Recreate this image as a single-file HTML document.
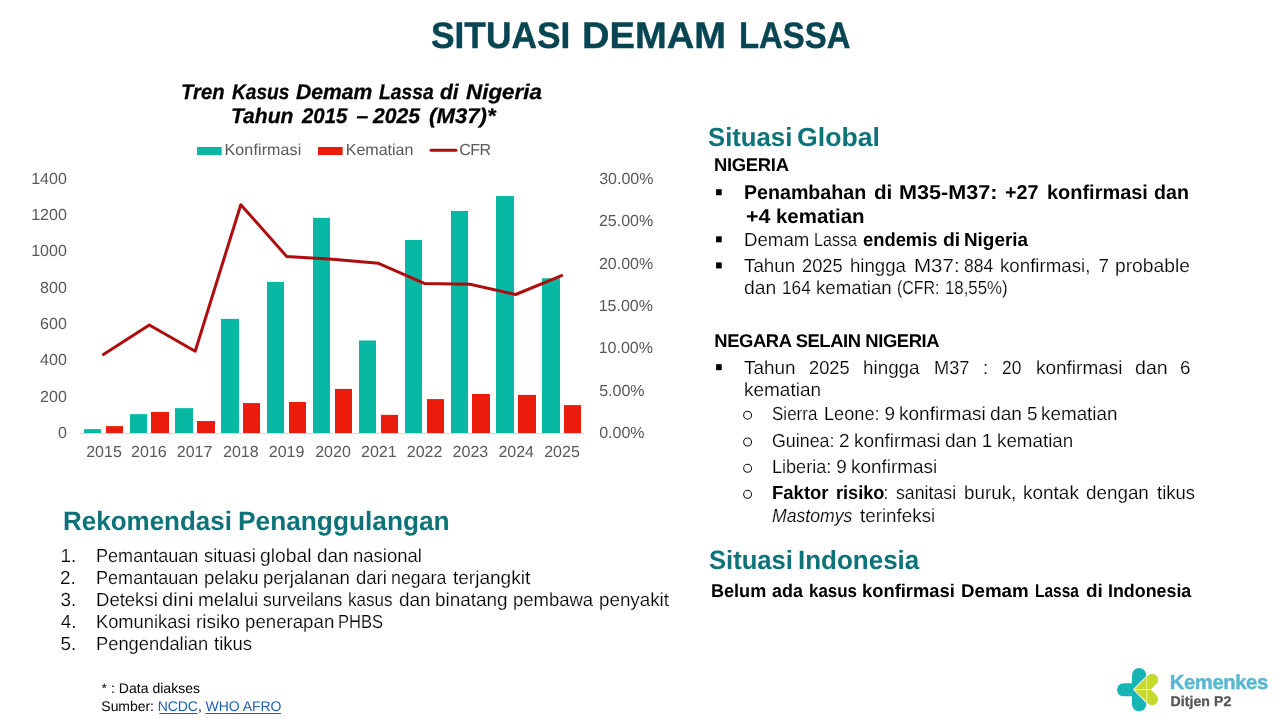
<!DOCTYPE html>
<html lang="id"><head><meta charset="utf-8"><title>Situasi Demam Lassa</title>
<style>
html,body{margin:0;padding:0;background:#fff}
body{width:1280px;height:720px;position:relative;overflow:hidden;font-family:"Liberation Sans",sans-serif;font-variant-ligatures:none;text-rendering:geometricPrecision}
.t{position:absolute;white-space:pre;line-height:1;transform-origin:0 0}
.r{-webkit-text-stroke:0.18px #fff}
svg{position:absolute;left:0;top:0}
</style></head><body>
<div id="slide" style="position:absolute;left:0;top:0;width:1280px;height:720px;will-change:transform">
<svg width="1280" height="720" viewBox="0 0 1280 720">
<line x1="80" y1="433.5" x2="584.3" y2="433.5" stroke="#d9d9d9" stroke-width="1"/>
<rect x="84" y="429.10" width="17" height="3.90" fill="#09b8a4"/>
<rect x="106" y="426.11" width="17" height="6.89" fill="#eb1c0c"/>
<rect x="130" y="414.13" width="17" height="18.87" fill="#09b8a4"/>
<rect x="151" y="411.95" width="18" height="21.05" fill="#eb1c0c"/>
<rect x="175" y="408.14" width="18" height="24.86" fill="#09b8a4"/>
<rect x="197" y="421.03" width="18" height="11.97" fill="#eb1c0c"/>
<rect x="221" y="318.88" width="18" height="114.12" fill="#09b8a4"/>
<rect x="243" y="403.06" width="17" height="29.94" fill="#eb1c0c"/>
<rect x="267" y="281.87" width="17" height="151.13" fill="#09b8a4"/>
<rect x="289" y="401.98" width="17" height="31.02" fill="#eb1c0c"/>
<rect x="313" y="217.83" width="17" height="215.17" fill="#09b8a4"/>
<rect x="335" y="388.91" width="17" height="44.09" fill="#eb1c0c"/>
<rect x="359" y="340.47" width="17" height="92.53" fill="#09b8a4"/>
<rect x="381" y="414.86" width="17" height="18.14" fill="#eb1c0c"/>
<rect x="405" y="239.96" width="17" height="193.04" fill="#09b8a4"/>
<rect x="427" y="399.07" width="17" height="33.93" fill="#eb1c0c"/>
<rect x="451" y="210.93" width="17" height="222.07" fill="#09b8a4"/>
<rect x="472" y="393.99" width="18" height="39.01" fill="#eb1c0c"/>
<rect x="496" y="196.05" width="18" height="236.95" fill="#09b8a4"/>
<rect x="518" y="394.90" width="18" height="38.10" fill="#eb1c0c"/>
<rect x="542" y="278.24" width="18" height="154.76" fill="#09b8a4"/>
<rect x="564" y="405.06" width="17" height="27.94" fill="#eb1c0c"/>
<polyline fill="none" stroke="#ad0d0d" stroke-width="3" stroke-linejoin="round" stroke-linecap="round" points="103.4,354.5 149.3,325.0 195.2,351.2 240.8,204.7 286.7,256.4 332.5,259.3 378.5,263.3 424.3,283.4 470.0,284.3 515.6,294.5 561.6,275.6"/>
<rect x="197" y="147" width="24.7" height="8" fill="#09b8a4"/>
<rect x="318" y="147" width="24.7" height="8" fill="#eb1c0c"/>
<line x1="431" y1="150.3" x2="456" y2="150.3" stroke="#ad0d0d" stroke-width="3" stroke-linecap="round"/>
<rect x="716.1" y="189.20" width="5.6" height="6.0" fill="#000"/>
<rect x="716.1" y="236.30" width="5.6" height="6.0" fill="#000"/>
<rect x="716.1" y="262.40" width="5.6" height="6.0" fill="#000"/>
<rect x="716.1" y="364.20" width="5.6" height="6.0" fill="#000"/>
<circle cx="747.6" cy="415.20" r="3.95" fill="none" stroke="#111" stroke-width="1.05"/>
<circle cx="747.6" cy="442.00" r="3.95" fill="none" stroke="#111" stroke-width="1.05"/>
<circle cx="747.6" cy="468.30" r="3.95" fill="none" stroke="#111" stroke-width="1.05"/>
<circle cx="747.6" cy="494.30" r="3.95" fill="none" stroke="#111" stroke-width="1.05"/>
<path d="M159.4 713.5 H197.6 M205.4 713.5 H281" stroke="#1a5fb4" stroke-width="1" fill="none"/>
<rect x="1132" y="668" width="14.3" height="43.3" rx="7.15" fill="#17b4b6"/>
<path d="M1132.2 683.3 H1123.5 A6.5 6.5 0 0 0 1123.5 696.3 H1132.2 Z" fill="#17b4b6"/>
<path d="M1147 675.2 L1132.8 689.5 L1147 703.8 Z" fill="#fff"/>
<path d="M1134.06 689.50 L1148.13 675.43 A5.90 5.90 0 0 1 1156.47 683.77 L1150.74 689.50 L1156.47 695.23 A5.90 5.90 0 0 1 1148.13 703.57 Z" fill="#c7d92d"/>
<path d="M1134 689.5 H1151 M1146.8 677.5 V701.5" stroke="#f1f9a8" stroke-width="0.85" fill="none"/>
</svg>
<div class="ln">
<span class="t" style="left:430.85px;top:17px;font-size:37px;color:#074552;font-weight:700;transform:scaleX(0.9546);-webkit-text-stroke:0.4px #074552">SITUASI </span>
<span class="t" style="left:581.72px;top:17px;font-size:37px;color:#074552;font-weight:700;transform:scaleX(1.0303);-webkit-text-stroke:0.4px #074552">DEMAM </span>
<span class="t" style="left:738.95px;top:17px;font-size:37px;color:#074552;font-weight:700;transform:scaleX(0.8882);-webkit-text-stroke:0.4px #074552">LASSA</span>
</div>
<div class="ln">
<span class="t" style="left:180.93px;top:82px;font-size:21.2px;color:#000;font-weight:700;font-style:italic;transform:scaleX(0.9560);-webkit-text-stroke:0.3px #000">Tren </span>
<span class="t" style="left:231.60px;top:82px;font-size:21.2px;color:#000;font-weight:700;font-style:italic;transform:scaleX(0.9022);-webkit-text-stroke:0.3px #000">Kasus </span>
<span class="t" style="left:295.67px;top:82px;font-size:21.2px;color:#000;font-weight:700;font-style:italic;transform:scaleX(0.9976);-webkit-text-stroke:0.3px #000">Demam </span>
<span class="t" style="left:379.20px;top:82px;font-size:21.2px;color:#000;font-weight:700;font-style:italic;transform:scaleX(0.9102);-webkit-text-stroke:0.3px #000">Lassa </span>
<span class="t" style="left:440.17px;top:82px;font-size:21.2px;color:#000;font-weight:700;font-style:italic;transform:scaleX(0.9886);-webkit-text-stroke:0.3px #000">di </span>
<span class="t" style="left:465.90px;top:82px;font-size:21.2px;color:#000;font-weight:700;font-style:italic;transform:scaleX(1.0566);-webkit-text-stroke:0.3px #000">Nigeria</span>
</div>
<div class="ln">
<span class="t" style="left:231.48px;top:106px;font-size:21.2px;color:#000;font-weight:700;font-style:italic;transform:scaleX(0.9943);-webkit-text-stroke:0.3px #000">Tahun </span>
<span class="t" style="left:302.32px;top:106px;font-size:21.2px;color:#000;font-weight:700;font-style:italic;transform:scaleX(0.9617);-webkit-text-stroke:0.3px #000">2015 </span>
<span class="t" style="left:356.57px;top:106px;font-size:21.2px;color:#000;font-weight:700;font-style:italic;-webkit-text-stroke:0.3px #000">– </span>
<span class="t" style="left:373.43px;top:106px;font-size:21.2px;color:#000;font-weight:700;font-style:italic;transform:scaleX(0.9971);-webkit-text-stroke:0.3px #000">2025 </span>
<span class="t" style="left:428.81px;top:106px;font-size:21.2px;color:#000;font-weight:700;font-style:italic;transform:scaleX(1.0479);-webkit-text-stroke:0.3px #000">(M37)*</span>
</div>
<div class="t" style="left:224.50px;top:143px;font-size:16px;color:#595959;letter-spacing:0.136px">Konfirmasi</div>
<div class="t" style="left:345.75px;top:143px;font-size:16px;color:#595959;letter-spacing:0.008px">Kematian</div>
<div class="t" style="left:459.25px;top:143px;font-size:16px;color:#595959;letter-spacing:-0.543px">CFR</div>
<div class="ln">
<span class="t" style="left:708.10px;top:124px;font-size:26.2px;color:#0e7378;font-weight:700;transform:scaleX(0.9819)">Situasi </span>
<span class="t" style="left:797.17px;top:124px;font-size:26.2px;color:#0e7378;font-weight:700;transform:scaleX(1.0187)">Global</span>
</div>
<div class="t" style="left:714.05px;top:156px;font-size:18.4px;color:#000;font-weight:700;letter-spacing:-0.290px">NIGERIA</div>
<div class="ln">
<span class="t" style="left:744.02px;top:183px;font-size:20px;color:#000;font-weight:700;transform:scaleX(0.9815)">Penambahan </span>
<span class="t" style="left:873.75px;top:183px;font-size:20px;color:#000;font-weight:700;transform:scaleX(1.0329)">di </span>
<span class="t" style="left:898.95px;top:183px;font-size:20px;color:#000;font-weight:700;transform:scaleX(1.0801)">M35-M37: </span>
<span class="t" style="left:1004.98px;top:183px;font-size:20px;color:#000;font-weight:700;transform:scaleX(0.9907)">+27 </span>
<span class="t" style="left:1046.85px;top:183px;font-size:20px;color:#000;font-weight:700;transform:scaleX(0.9977)">konfirmasi </span>
<span class="t" style="left:1154.39px;top:183px;font-size:20px;color:#000;font-weight:700;transform:scaleX(0.9803)">dan</span>
</div>
<div class="ln">
<span class="t" style="left:745.53px;top:207px;font-size:20px;color:#000;font-weight:700;transform:scaleX(1.0666)">+4 </span>
<span class="t" style="left:775.62px;top:207px;font-size:20px;color:#000;font-weight:700;transform:scaleX(1.0213)">kematian</span>
</div>
<div class="ln">
<span class="t r" style="left:744.04px;top:232px;font-size:18.9px;color:#000;transform:scaleX(0.9877)">Demam </span>
<span class="t r" style="left:814.14px;top:232px;font-size:18.9px;color:#000;transform:scaleX(0.8519)">Lassa </span>
<span class="t" style="left:863.18px;top:232px;font-size:18.9px;color:#000;font-weight:700;transform:scaleX(0.9715)">endemis </span>
<span class="t" style="left:942.79px;top:232px;font-size:18.9px;color:#000;font-weight:700;transform:scaleX(1.0272)">di </span>
<span class="t" style="left:964.22px;top:232px;font-size:18.9px;color:#000;font-weight:700;transform:scaleX(0.9986)">Nigeria</span>
</div>
<div class="ln">
<span class="t r" style="left:744.21px;top:258px;font-size:18.9px;color:#000;transform:scaleX(0.9958)">Tahun </span>
<span class="t r" style="left:802.34px;top:258px;font-size:18.9px;color:#000;transform:scaleX(0.9658)">2025 </span>
<span class="t r" style="left:850.44px;top:258px;font-size:18.9px;color:#000;transform:scaleX(0.9861)">hingga </span>
<span class="t r" style="left:913.69px;top:258px;font-size:18.9px;color:#000;transform:scaleX(1.0872)">M37: </span>
<span class="t r" style="left:963.55px;top:258px;font-size:18.9px;color:#000;transform:scaleX(0.9239)">884 </span>
<span class="t r" style="left:1000.43px;top:258px;font-size:18.9px;color:#000;transform:scaleX(0.9895)">konfirmasi, </span>
<span class="t r" style="left:1098.41px;top:258px;font-size:18.9px;color:#000">7 </span>
<span class="t r" style="left:1115.00px;top:258px;font-size:18.9px;color:#000;transform:scaleX(1.0184)">probable</span>
</div>
<div class="ln">
<span class="t r" style="left:744.10px;top:280px;font-size:18.9px;color:#000;transform:scaleX(1.0224)">dan </span>
<span class="t r" style="left:782.02px;top:280px;font-size:18.9px;color:#000;transform:scaleX(0.9103)">164 </span>
<span class="t r" style="left:816.23px;top:280px;font-size:18.9px;color:#000;transform:scaleX(0.9877)">kematian </span>
<span class="t r" style="left:896.75px;top:280px;font-size:18.9px;color:#000;transform:scaleX(0.8434)">(CFR: </span>
<span class="t r" style="left:945.20px;top:280px;font-size:18.9px;color:#000;transform:scaleX(0.8891)">18,55%)</span>
</div>
<div class="t" style="left:714.35px;top:332px;font-size:18.4px;color:#000;font-weight:700;letter-spacing:-0.403px">NEGARA SELAIN NIGERIA</div>
<div class="ln">
<span class="t r" style="left:744.00px;top:360px;font-size:18.9px;color:#000;transform:scaleX(0.9998)">Tahun </span>
<span class="t r" style="left:808.54px;top:360px;font-size:18.9px;color:#000;transform:scaleX(0.9658)">2025 </span>
<span class="t r" style="left:862.92px;top:360px;font-size:18.9px;color:#000;transform:scaleX(0.9969)">hingga </span>
<span class="t r" style="left:933.58px;top:360px;font-size:18.9px;color:#000;transform:scaleX(0.9621)">M37 </span>
<span class="t r" style="left:982.92px;top:360px;font-size:18.9px;color:#000">: </span>
<span class="t r" style="left:1001.93px;top:360px;font-size:18.9px;color:#000;transform:scaleX(0.9232)">20 </span>
<span class="t r" style="left:1035.71px;top:360px;font-size:18.9px;color:#000;transform:scaleX(1.0042)">konfirmasi </span>
<span class="t r" style="left:1134.69px;top:360px;font-size:18.9px;color:#000;transform:scaleX(1.0358)">dan </span>
<span class="t r" style="left:1180.01px;top:360px;font-size:18.9px;color:#000">6</span>
</div>
<div class="ln">
<span class="t r" style="left:743.51px;top:382px;font-size:18.9px;color:#000;transform:scaleX(1.0052)">kematian</span>
</div>
<div class="ln">
<span class="t r" style="left:772.27px;top:406px;font-size:18.9px;color:#000;transform:scaleX(0.9014)">Sierra </span>
<span class="t r" style="left:823.88px;top:406px;font-size:18.9px;color:#000;transform:scaleX(0.9616)">Leone: </span>
<span class="t r" style="left:884.41px;top:406px;font-size:18.9px;color:#000">9 </span>
<span class="t r" style="left:898.56px;top:406px;font-size:18.9px;color:#000;transform:scaleX(1.0072)">konfirmasi </span>
<span class="t r" style="left:990.00px;top:406px;font-size:18.9px;color:#000;transform:scaleX(1.0141)">dan </span>
<span class="t r" style="left:1026.91px;top:406px;font-size:18.9px;color:#000">5 </span>
<span class="t r" style="left:1040.72px;top:406px;font-size:18.9px;color:#000;transform:scaleX(0.9985)">kematian</span>
</div>
<div class="ln">
<span class="t r" style="left:771.96px;top:433px;font-size:18.9px;color:#000;transform:scaleX(0.9437)">Guinea: </span>
<span class="t r" style="left:839.01px;top:433px;font-size:18.9px;color:#000">2 </span>
<span class="t r" style="left:853.56px;top:433px;font-size:18.9px;color:#000;transform:scaleX(1.0042)">konfirmasi </span>
<span class="t r" style="left:945.10px;top:433px;font-size:18.9px;color:#000;transform:scaleX(1.0107)">dan </span>
<span class="t r" style="left:981.72px;top:433px;font-size:18.9px;color:#000">1 </span>
<span class="t r" style="left:996.83px;top:433px;font-size:18.9px;color:#000;transform:scaleX(0.9944)">kematian</span>
</div>
<div class="ln">
<span class="t r" style="left:772.34px;top:459px;font-size:18.9px;color:#000;transform:scaleX(0.9569)">Liberia: </span>
<span class="t r" style="left:836.21px;top:459px;font-size:18.9px;color:#000">9 </span>
<span class="t r" style="left:850.72px;top:459px;font-size:18.9px;color:#000;transform:scaleX(1.0018)">konfirmasi</span>
</div>
<div class="ln">
<span class="t" style="left:772.09px;top:485px;font-size:18.9px;color:#000;font-weight:700;transform:scaleX(0.9798)">Faktor </span>
<span class="t" style="left:835.87px;top:485px;font-size:18.9px;color:#000;font-weight:700;transform:scaleX(0.9608)">risiko</span>
<span class="t r" style="left:883.32px;top:485px;font-size:18.9px;color:#000">: </span>
<span class="t r" style="left:895.62px;top:485px;font-size:18.9px;color:#000;transform:scaleX(0.9389)">sanitasi </span>
<span class="t r" style="left:963.52px;top:485px;font-size:18.9px;color:#000;transform:scaleX(0.9955)">buruk, </span>
<span class="t r" style="left:1022.91px;top:485px;font-size:18.9px;color:#000;transform:scaleX(1.0039)">kontak </span>
<span class="t r" style="left:1086.31px;top:485px;font-size:18.9px;color:#000;transform:scaleX(0.9968)">dengan </span>
<span class="t r" style="left:1156.90px;top:485px;font-size:18.9px;color:#000;transform:scaleX(0.9803)">tikus</span>
</div>
<div class="ln">
<span class="t r" style="left:772.42px;top:508px;font-size:18.9px;color:#000;font-style:italic;transform:scaleX(0.9323)">Mastomys </span>
<span class="t r" style="left:859.90px;top:508px;font-size:18.9px;color:#000;transform:scaleX(0.9953)">terinfeksi</span>
</div>
<div class="ln">
<span class="t" style="left:708.80px;top:547px;font-size:26.4px;color:#0e7378;font-weight:700;transform:scaleX(0.9703)">Situasi </span>
<span class="t" style="left:798.38px;top:547px;font-size:26.4px;color:#0e7378;font-weight:700;transform:scaleX(0.9843)">Indonesia</span>
</div>
<div class="ln">
<span class="t" style="left:711.27px;top:582px;font-size:18.4px;color:#000;font-weight:700;transform:scaleX(0.9825)">Belum </span>
<span class="t" style="left:772.12px;top:582px;font-size:18.4px;color:#000;font-weight:700;transform:scaleX(0.9736)">ada </span>
<span class="t" style="left:809.44px;top:582px;font-size:18.4px;color:#000;font-weight:700;transform:scaleX(0.9212)">kasus </span>
<span class="t" style="left:862.05px;top:582px;font-size:18.4px;color:#000;font-weight:700;transform:scaleX(0.9980)">konfirmasi </span>
<span class="t" style="left:961.43px;top:582px;font-size:18.4px;color:#000;font-weight:700;transform:scaleX(1.0190)">Demam </span>
<span class="t" style="left:1034.83px;top:582px;font-size:18.4px;color:#000;font-weight:700;transform:scaleX(0.8411)">Lassa </span>
<span class="t" style="left:1085.61px;top:582px;font-size:18.4px;color:#000;font-weight:700;transform:scaleX(1.0285)">di </span>
<span class="t" style="left:1107.58px;top:582px;font-size:18.4px;color:#000;font-weight:700;transform:scaleX(0.9704)">Indonesia</span>
</div>
<div class="ln">
<span class="t" style="left:62.58px;top:508px;font-size:26.6px;color:#0e7378;font-weight:700;transform:scaleX(0.9770)">Rekomendasi </span>
<span class="t" style="left:238.36px;top:508px;font-size:26.6px;color:#0e7378;font-weight:700;transform:scaleX(0.9879)">Penanggulangan</span>
</div>
<div class="ln">
<span class="t r" style="left:96.19px;top:548px;font-size:18.9px;color:#000;transform:scaleX(0.9560)">Pemantauan </span>
<span class="t r" style="left:204.21px;top:548px;font-size:18.9px;color:#000;transform:scaleX(0.9662)">situasi </span>
<span class="t r" style="left:260.15px;top:548px;font-size:18.9px;color:#000;transform:scaleX(1.0219)">global </span>
<span class="t r" style="left:317.21px;top:548px;font-size:18.9px;color:#000;transform:scaleX(1.0040)">dan </span>
<span class="t r" style="left:353.24px;top:548px;font-size:18.9px;color:#000;transform:scaleX(0.9787)">nasional</span>
</div>
<div class="ln">
<span class="t r" style="left:96.19px;top:570px;font-size:18.9px;color:#000;transform:scaleX(0.9560)">Pemantauan </span>
<span class="t r" style="left:204.24px;top:570px;font-size:18.9px;color:#000;transform:scaleX(0.9826)">pelaku </span>
<span class="t r" style="left:263.34px;top:570px;font-size:18.9px;color:#000;transform:scaleX(0.9838)">perjalanan </span>
<span class="t r" style="left:355.67px;top:570px;font-size:18.9px;color:#000;transform:scaleX(0.9793)">dari </span>
<span class="t r" style="left:391.14px;top:570px;font-size:18.9px;color:#000;transform:scaleX(0.9409)">negara </span>
<span class="t r" style="left:453.40px;top:570px;font-size:18.9px;color:#000;transform:scaleX(1.0075)">terjangkit</span>
</div>
<div class="ln">
<span class="t r" style="left:96.15px;top:592px;font-size:18.9px;color:#000;transform:scaleX(0.9805)">Deteksi </span>
<span class="t r" style="left:162.27px;top:592px;font-size:18.9px;color:#000;transform:scaleX(1.0664)">dini </span>
<span class="t r" style="left:198.06px;top:592px;font-size:18.9px;color:#000;transform:scaleX(1.0055)">melalui </span>
<span class="t r" style="left:262.72px;top:592px;font-size:18.9px;color:#000;transform:scaleX(0.9339)">surveilans </span>
<span class="t r" style="left:348.04px;top:592px;font-size:18.9px;color:#000;transform:scaleX(0.8994)">kasus </span>
<span class="t r" style="left:398.81px;top:592px;font-size:18.9px;color:#000;transform:scaleX(1.0040)">dan </span>
<span class="t r" style="left:435.12px;top:592px;font-size:18.9px;color:#000;transform:scaleX(1.0008)">binatang </span>
<span class="t r" style="left:512.74px;top:592px;font-size:18.9px;color:#000;transform:scaleX(0.9782)">pembawa </span>
<span class="t r" style="left:598.82px;top:592px;font-size:18.9px;color:#000;transform:scaleX(0.9948)">penyakit</span>
</div>
<div class="ln">
<span class="t r" style="left:96.17px;top:614px;font-size:18.9px;color:#000;transform:scaleX(0.9680)">Komunikasi </span>
<span class="t r" style="left:195.82px;top:614px;font-size:18.9px;color:#000;transform:scaleX(1.0013)">risiko </span>
<span class="t r" style="left:244.58px;top:614px;font-size:18.9px;color:#000;transform:scaleX(0.9881)">penerapan </span>
<span class="t r" style="left:338.11px;top:614px;font-size:18.9px;color:#000;transform:scaleX(0.8763)">PHBS</span>
</div>
<div class="ln">
<span class="t r" style="left:96.17px;top:636px;font-size:18.9px;color:#000;transform:scaleX(0.9706)">Pengendalian </span>
<span class="t r" style="left:213.90px;top:636px;font-size:18.9px;color:#000;transform:scaleX(0.9803)">tikus</span>
</div>
<div class="t r" style="left:60.62px;top:548px;font-size:18.9px;color:#000">1.</div>
<div class="t r" style="left:60.11px;top:570px;font-size:18.9px;color:#000">2.</div>
<div class="t r" style="left:60.41px;top:592px;font-size:18.9px;color:#000">3.</div>
<div class="t r" style="left:60.70px;top:614px;font-size:18.9px;color:#000">4.</div>
<div class="t r" style="left:60.41px;top:636px;font-size:18.9px;color:#000">5.</div>
<div class="t" style="left:101.58px;top:681px;font-size:14px;color:#000;letter-spacing:0.026px">* : Data diakses</div>
<div class="t" style="left:101.36px;top:699px;font-size:14px;color:#000;letter-spacing:-0.059px">Sumber: <span style="color:#1a5fb4">NCDC</span>, <span style="color:#1a5fb4">WHO AFRO</span></div>
<div class="t" style="left:1169.73px;top:673px;font-size:20.3px;color:#5bb8d1;font-weight:700;-webkit-text-stroke:0.45px #5bb8d1;letter-spacing:-0.425px">Kemenkes</div>
<div class="t" style="left:1170.42px;top:694px;font-size:14.1px;color:#56565a;font-weight:700;-webkit-text-stroke:0.3px #56565a;letter-spacing:0.077px">Ditjen P2</div>
<div class="t" style="left:31.20px;top:172px;font-size:16px;color:#595959">1400</div>
<div class="t" style="left:31.20px;top:208px;font-size:16px;color:#595959">1200</div>
<div class="t" style="left:31.20px;top:244px;font-size:16px;color:#595959">1000</div>
<div class="t" style="left:40.10px;top:281px;font-size:16px;color:#595959">800</div>
<div class="t" style="left:40.10px;top:317px;font-size:16px;color:#595959">600</div>
<div class="t" style="left:40.10px;top:353px;font-size:16px;color:#595959">400</div>
<div class="t" style="left:40.10px;top:390px;font-size:16px;color:#595959">200</div>
<div class="t" style="left:57.89px;top:426px;font-size:16px;color:#595959">0</div>
<div class="t" style="left:599.20px;top:172px;font-size:16px;color:#595959">30.00%</div>
<div class="t" style="left:598.95px;top:214px;font-size:16px;color:#595959">25.00%</div>
<div class="t" style="left:598.95px;top:257px;font-size:16px;color:#595959">20.00%</div>
<div class="t" style="left:598.70px;top:299px;font-size:16px;color:#595959">15.00%</div>
<div class="t" style="left:598.70px;top:341px;font-size:16px;color:#595959">10.00%</div>
<div class="t" style="left:599.20px;top:384px;font-size:16px;color:#595959">5.00%</div>
<div class="t" style="left:599.20px;top:426px;font-size:16px;color:#595959">0.00%</div>
<div class="t" style="left:86.20px;top:445px;font-size:16px;color:#595959">2015</div>
<div class="t" style="left:131.10px;top:445px;font-size:16px;color:#595959">2016</div>
<div class="t" style="left:176.80px;top:445px;font-size:16px;color:#595959">2017</div>
<div class="t" style="left:223.00px;top:445px;font-size:16px;color:#595959">2018</div>
<div class="t" style="left:268.80px;top:445px;font-size:16px;color:#595959">2019</div>
<div class="t" style="left:315.20px;top:445px;font-size:16px;color:#595959">2020</div>
<div class="t" style="left:361.00px;top:445px;font-size:16px;color:#595959">2021</div>
<div class="t" style="left:406.80px;top:445px;font-size:16px;color:#595959">2022</div>
<div class="t" style="left:452.60px;top:445px;font-size:16px;color:#595959">2023</div>
<div class="t" style="left:498.40px;top:445px;font-size:16px;color:#595959">2024</div>
<div class="t" style="left:544.20px;top:445px;font-size:16px;color:#595959">2025</div>
</div>
</body></html>
